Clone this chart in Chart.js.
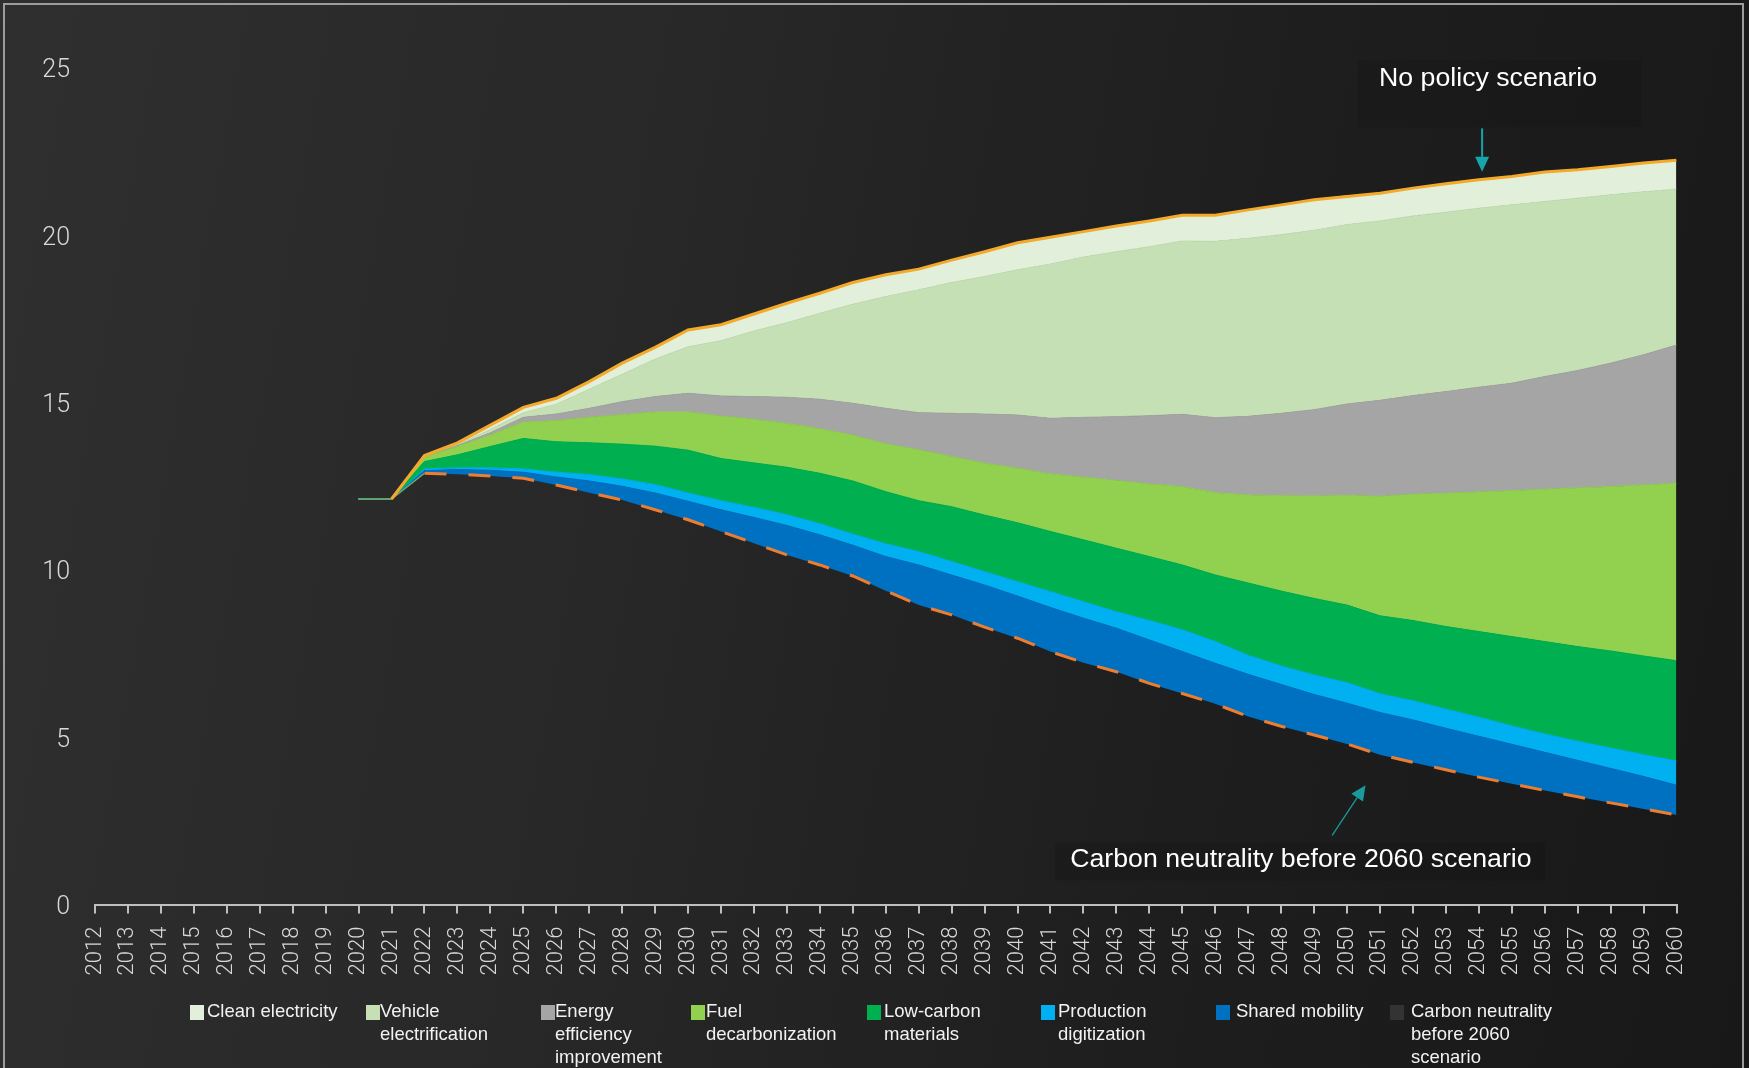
<!DOCTYPE html>
<html>
<head>
<meta charset="utf-8">
<title>Transport emission pathways</title>
<script src="https://cdn.jsdelivr.net/npm/chart.js@4.4.1/dist/chart.umd.min.js"></script>
<style>
  html, body { margin: 0; padding: 0; }
  body {
    width: 1749px; height: 1068px; overflow: hidden; position: relative;
    background: linear-gradient(100deg, #2f2f2f 0%, #282828 35%, #1e1e1e 68%, #181818 100%);
  }
  #frame {
    position: absolute; left: 3px; top: 3px; width: 1741px; height: 1100px;
    box-sizing: border-box; border: 2px solid #9c9c9c; border-bottom: none;
  }
  #chart { position: absolute; left: 0; top: 0; }
  #legend {
    position: absolute; left: 0; top: 0; width: 1749px;
    font: 18.5px "Liberation Sans", Arial, sans-serif; color: #f2f2f2;
  }
  .item { position: absolute; top: 999px; display: flex; line-height: 23px; white-space: pre; }
  .swatch { width: 14px; height: 15px; margin-top: 6px; flex: none; }
</style>
</head>
<body>
<div id="frame"></div>
<canvas id="chart" width="1749" height="1068"></canvas>
<div id="legend"></div>

<script>
// years shown on the axis, and the years that carry data
const firstYear = 2012;
const lastYear = 2060;
const dataYears = Array.from({ length: 41 }, (_, i) => 2020 + i);

// emissions pathway, 2020-2060
const neutralScenario = [
  12.12, 12.12, 12.89, 12.86, 12.81, 12.74, 12.54, 12.31, 12.09, 11.80,
  11.50, 11.15, 10.80, 10.45, 10.15, 9.82, 9.38, 8.95, 8.66, 8.29,
  7.96, 7.56, 7.23, 6.96, 6.61, 6.31, 6.00, 5.62, 5.33, 5.07,
  4.80, 4.48, 4.25, 4.03, 3.81, 3.61, 3.41, 3.22, 3.04, 2.86, 2.68
];
const noPolicyScenario = [
  12.12, 12.12, 13.42, 13.80, 14.33, 14.86, 15.13, 15.63, 16.18, 16.65,
  17.17, 17.33, 17.65, 17.97, 18.27, 18.59, 18.82, 18.99, 19.26, 19.51,
  19.78, 19.94, 20.11, 20.28, 20.43, 20.60, 20.60, 20.76, 20.91, 21.06,
  21.16, 21.26, 21.41, 21.54, 21.66, 21.76, 21.89, 21.96, 22.06, 22.16, 22.24
];

// reduction from each lever, stacked on top of the neutral pathway
const sharedMobility = [
  0, 0, 0.08, 0.14, 0.17, 0.18, 0.24, 0.35, 0.41, 0.50,
  0.55, 0.65, 0.77, 0.88, 0.90, 0.92, 1.02, 1.20, 1.19, 1.26,
  1.26, 1.32, 1.33, 1.30, 1.30, 1.25, 1.21, 1.26, 1.25, 1.21,
  1.22, 1.26, 1.27, 1.24, 1.22, 1.18, 1.14, 1.09, 1.03, 0.97, 0.89
];
const productionDigitization = [
  0, 0, 0.05, 0.05, 0.07, 0.10, 0.14, 0.19, 0.22, 0.25,
  0.25, 0.27, 0.30, 0.32, 0.33, 0.33, 0.38, 0.40, 0.40, 0.40,
  0.43, 0.47, 0.49, 0.49, 0.58, 0.65, 0.65, 0.57, 0.55, 0.58,
  0.61, 0.56, 0.57, 0.57, 0.57, 0.55, 0.55, 0.57, 0.61, 0.65, 0.72
];
const lowCarbonMaterials = [
  0, 0, 0.22, 0.39, 0.64, 0.91, 0.91, 0.95, 1.04, 1.15,
  1.28, 1.26, 1.33, 1.42, 1.51, 1.59, 1.56, 1.52, 1.64, 1.69,
  1.76, 1.80, 1.85, 1.90, 1.91, 1.94, 1.99, 2.16, 2.24, 2.29,
  2.32, 2.33, 2.40, 2.47, 2.56, 2.67, 2.76, 2.83, 2.90, 2.95, 3.00
];
const fuelDecarbonization = [
  0, 0, 0.13, 0.25, 0.34, 0.49, 0.63, 0.76, 0.88, 1.02,
  1.14, 1.27, 1.30, 1.31, 1.33, 1.37, 1.43, 1.52, 1.50, 1.55,
  1.63, 1.72, 1.87, 2.02, 2.17, 2.34, 2.46, 2.63, 2.85, 3.06,
  3.28, 3.57, 3.77, 3.98, 4.17, 4.36, 4.55, 4.74, 4.91, 5.11, 5.30
];
const energyEfficiency = [
  0, 0, 0.03, 0.03, 0.07, 0.14, 0.20, 0.27, 0.39, 0.46,
  0.56, 0.60, 0.68, 0.78, 0.88, 0.95, 1.06, 1.11, 1.29, 1.47,
  1.59, 1.66, 1.79, 1.91, 2.04, 2.16, 2.24, 2.35, 2.46, 2.58,
  2.73, 2.87, 2.95, 3.04, 3.13, 3.21, 3.37, 3.51, 3.69, 3.89, 4.13
];
const vehicleElectrification = [
  0, 0, 0, 0.03, 0.10, 0.14, 0.29, 0.57, 0.82, 1.12,
  1.39, 1.65, 1.96, 2.23, 2.57, 2.96, 3.34, 3.67, 3.91, 4.11,
  4.34, 4.61, 4.79, 4.93, 5.05, 5.18, 5.27, 5.32, 5.34, 5.36,
  5.36, 5.36, 5.37, 5.36, 5.35, 5.33, 5.23, 5.15, 5.03, 4.87, 4.66
];
const cleanElectricity = [
  0, 0, 0.02, 0.05, 0.13, 0.16, 0.18, 0.23, 0.33, 0.35,
  0.50, 0.48, 0.51, 0.58, 0.60, 0.65, 0.65, 0.62, 0.67, 0.74,
  0.81, 0.80, 0.76, 0.77, 0.77, 0.77, 0.78, 0.85, 0.89, 0.91,
  0.86, 0.80, 0.83, 0.85, 0.85, 0.85, 0.88, 0.85, 0.85, 0.86, 0.86
];

const yTicks = [0, 5, 10, 15, 20, 25];

// legend, top to bottom of the stack
const levers = [
  { name: 'Clean electricity', values: cleanElectricity, color: '#e2efda' },
  { name: 'Vehicle\nelectrification', values: vehicleElectrification, color: '#c5e0b4' },
  { name: 'Energy\nefficiency\nimprovement', values: energyEfficiency, color: '#a5a5a5' },
  { name: 'Fuel\ndecarbonization', values: fuelDecarbonization, color: '#92d050' },
  { name: 'Low-carbon\nmaterials', values: lowCarbonMaterials, color: '#00b050' },
  { name: 'Production\ndigitization', values: productionDigitization, color: '#00b0f0' },
  { name: 'Shared mobility', values: sharedMobility, color: '#0070c0' }
];
const neutralName = 'Carbon neutrality\nbefore 2060\nscenario';

const legendLeft = [190, 366, 541, 691, 867, 1041, 1216, 1390];
const legendTextLeft = [207, 380, 555, 706, 884, 1058, 1236, 1411];

const points = (arr) => dataYears.map((yr, i) => ({ x: yr, y: arr[i] }));

const datasets = [
  {
    label: 'No policy scenario',
    data: points(noPolicyScenario),
    stack: 'noPolicy',
    borderColor: '#f3aa2a',
    borderWidth: 3,
    fill: false,
    // the pathways only split after 2021
    segment: { borderColor: (c) => (c.p0.parsed.x < 2021 ? 'rgba(0,0,0,0)' : undefined) }
  },
  {
    label: neutralName.replace(/\n/g, ' '),
    data: points(neutralScenario),
    stack: 'levers',
    borderColor: '#ed7d31',
    borderWidth: 3,
    borderDash: [22, 22],
    backgroundColor: '#333333',
    fill: false,
    segment: {
      borderColor: (c) => (c.p0.parsed.x < 2022 ? '#7aa860' : undefined),
      borderWidth: (c) => (c.p0.parsed.x < 2022 ? 1.5 : undefined),
      borderDash: (c) => (c.p0.parsed.x < 2022 ? [] : undefined)
    }
  }
];
levers.slice().reverse().forEach((lv) => {
  datasets.push({
    label: lv.name.replace(/\n/g, ' '),
    data: points(lv.values),
    stack: 'levers',
    borderColor: lv.color,
    borderWidth: 1,
    backgroundColor: lv.color,
    fill: '-1'
  });
});

function drawArrow(ctx, x0, y0, x1, y1, width, color) {
  const ang = Math.atan2(y1 - y0, x1 - x0);
  const head = 15, half = 7;
  const bx = x1 - Math.cos(ang) * head, by = y1 - Math.sin(ang) * head;
  ctx.strokeStyle = color;
  ctx.fillStyle = color;
  ctx.lineWidth = width;
  ctx.beginPath();
  ctx.moveTo(x0, y0);
  ctx.lineTo(bx, by);
  ctx.stroke();
  ctx.beginPath();
  ctx.moveTo(x1, y1);
  ctx.lineTo(bx + Math.sin(ang) * half, by - Math.cos(ang) * half);
  ctx.lineTo(bx - Math.sin(ang) * half, by + Math.cos(ang) * half);
  ctx.closePath();
  ctx.fill();
}

// scenario call-outs with their arrows
const scenarioNotes = {
  id: 'scenarioNotes',
  afterDatasetsDraw(chart) {
    const { ctx, scales: { x, y } } = chart;
    ctx.save();
    ctx.font = '26.7px "Liberation Sans", Arial, sans-serif';
    ctx.textAlign = 'center';
    ctx.textBaseline = 'middle';

    const ax = x.getPixelForValue(2054.1);
    const ty = y.getPixelForValue(24.69);
    ctx.fillStyle = 'rgba(0,0,0,0.10)';
    ctx.fillRect(ax - 124, ty - 18, 283, 67);
    ctx.fillStyle = '#ffffff';
    ctx.fillText('No policy scenario', ax + 6, ty);
    const topY = y.getPixelForValue(noPolicyScenario[dataYears.indexOf(2054)]);
    drawArrow(ctx, ax, ty + 50, ax, topY - 8, 2, '#14a6aa');

    const cx = x.getPixelForValue(2048.6);
    const cy = y.getPixelForValue(1.35);
    ctx.fillStyle = 'rgba(0,0,0,0.10)';
    ctx.fillRect(cx - 246, cy - 17, 490, 38);
    ctx.fillStyle = '#ffffff';
    ctx.fillText('Carbon neutrality before 2060 scenario', cx, cy);
    drawArrow(ctx, x.getPixelForValue(2049.55), y.getPixelForValue(2.07),
      x.getPixelForValue(2050.56), y.getPixelForValue(3.57), 1.3, '#1a9a9e');
    ctx.restore();
  }
};

new Chart(document.getElementById('chart'), {
  type: 'line',
  data: { datasets },
  options: {
    responsive: false,
    animation: false,
    events: [],
    layout: { padding: { left: 0, top: 68, right: 72.5, bottom: 83.4 } },
    elements: { point: { radius: 0 }, line: { tension: 0 } },
    plugins: { legend: { display: false }, tooltip: { enabled: false } },
    scales: {
      x: {
        type: 'linear',
        min: firstYear,
        max: lastYear,
        afterFit(scale) { scale.height = 80; },
        afterBuildTicks(scale) {
          scale.ticks = [];
          for (let v = firstYear; v <= lastYear; v++) scale.ticks.push({ value: v });
        },
        ticks: {
          autoSkip: false,
          minRotation: 90,
          maxRotation: 90,
          padding: 13,
          color: '#d8d8d8',
          font: { family: 'Roboto, "Liberation Sans", sans-serif', size: 22, weight: '300' },
          callback: (v) => String(v)
        },
        grid: { drawOnChartArea: false, drawTicks: true, tickLength: 9, color: '#bfbfbf', lineWidth: 2 },
        border: { display: true, color: '#bfbfbf', width: 2 }
      },
      y: {
        stacked: true,
        min: 0,
        max: 25,
        afterFit(scale) { scale.width = 95; },
        afterBuildTicks(scale) { scale.ticks = yTicks.map((v) => ({ value: v })); },
        ticks: {
          padding: 25,
          labelOffset: 3,
          color: '#d8d8d8',
          font: { family: 'Roboto, "Liberation Sans", sans-serif', size: 25, weight: '300' }
        },
        grid: { display: false, drawTicks: false },
        border: { display: false }
      }
    }
  },
  plugins: [scenarioNotes]
});

// legend under the axis
const legend = document.getElementById('legend');
const legendItems = levers.map((lv) => ({ name: lv.name, color: lv.color }))
  .concat([{ name: neutralName, color: '#333333' }]);
legendItems.forEach((it, i) => {
  const div = document.createElement('div');
  div.className = 'item';
  div.style.left = legendLeft[i] + 'px';
  const sw = document.createElement('div');
  sw.className = 'swatch';
  sw.style.background = it.color;
  sw.style.marginRight = (legendTextLeft[i] - legendLeft[i] - 14) + 'px';
  const txt = document.createElement('div');
  txt.textContent = it.name;
  div.appendChild(sw);
  div.appendChild(txt);
  legend.appendChild(div);
});
</script>
</body>
</html>
